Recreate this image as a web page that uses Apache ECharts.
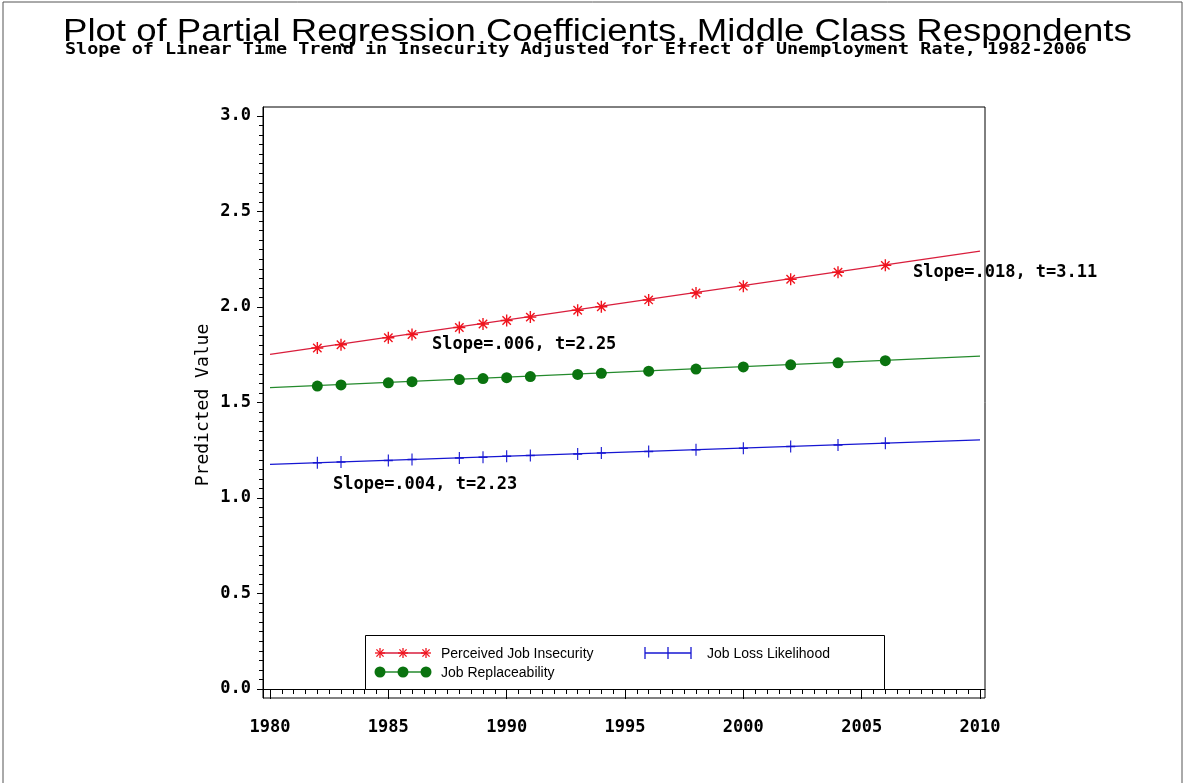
<!DOCTYPE html>
<html>
<head>
<meta charset="utf-8">
<script src="https://cdn.jsdelivr.net/npm/echarts@6/dist/echarts.min.js"></script>
<style>
  html, body { margin: 0; padding: 0; background: #fff; }
  #chart { width: 1186px; height: 783px; }
</style>
</head>
<body>
<div id="chart"></div>
<script>
// Survey years with predicted values for each insecurity measure
const years = [1982, 1983, 1985, 1986, 1988, 1989, 1990, 1991, 1993, 1994, 1996, 1998, 2000, 2002, 2004, 2006];
const insecurity     = [1.785, 1.802, 1.839, 1.856, 1.893, 1.911, 1.929, 1.947, 1.983, 2.001, 2.037, 2.073, 2.109, 2.145, 2.182, 2.218];
const replaceability = [1.586, 1.592, 1.603, 1.609, 1.620, 1.625, 1.630, 1.636, 1.647, 1.653, 1.664, 1.675, 1.686, 1.697, 1.708, 1.719];
const lossLikelihood = [1.184, 1.188, 1.197, 1.201, 1.210, 1.214, 1.218, 1.223, 1.231, 1.235, 1.244, 1.253, 1.261, 1.270, 1.278, 1.287];

// Fitted linear trend, drawn across the full axis span
const trendYears = [1980, 2010];
const insecurityTrend     = [1.752, 2.293];
const replaceabilityTrend = [1.578, 1.743];
const lossLikelihoodTrend = [1.176, 1.304];

const seriesNames = ['Perceived Job Insecurity', 'Job Replaceability', 'Job Loss Likelihood'];
const slopeNotes = ['Slope=.018, t=3.11', 'Slope=.006, t=2.25', 'Slope=.004, t=2.23'];
// anchor of each note (left edge, vertical middle) in data units
const slopeNoteX = [2007.17, 1986.85, 1982.66];
const slopeNoteY = [2.178, 1.801, 1.068];

const xTickLabels = [1980, 1985, 1990, 1995, 2000, 2005, 2010];
const yTickLabels = [0.0, 0.5, 1.0, 1.5, 2.0, 2.5, 3.0];

const RED = '#f0141e', RED_LINE = '#d91e3c';
const GREEN = '#0a730f', GREEN_LINE = '#248a2c';
const BLUE = '#1616d2';

const STAR = 'path://M5,0L5,10M0,5L10,5M1.5,1.5L8.5,8.5M8.5,1.5L1.5,8.5';
const PLUS = 'path://M5,0L5,10M0,5L10,5';

// minor tick positions: half-year steps and 0.05 steps
const xMinor = [];
for (let i = 0; i <= 60; i++) xMinor.push(1980 + i * 0.5);
const yMinor = [];
for (let i = 0; i <= 60; i++) yMinor.push(+(i * 0.05).toFixed(2));

const X_MIN = 1979.704, X_MAX = 2010.211;
const Y_MIN = -0.047, Y_MAX = 3.047;

const MONO = '"DejaVu Sans Mono", "Liberation Mono", monospace';
const SANS = '"Liberation Sans", Arial, sans-serif';

const pairs = (xs, ys) => xs.map((x, i) => [x, ys[i]]);

const chart = echarts.init(document.getElementById('chart'), null, { renderer: 'canvas' });

const axisCommon = {
  type: 'value',
  splitLine: { show: false },
  minorTick: { show: false },
};

const option = {
  backgroundColor: '#fff',
  animation: false,
  grid: {
    left: 263, top: 107, right: 201, bottom: 85,
    show: true, borderColor: '#000', borderWidth: 1,
    backgroundColor: 'transparent', z: 3
  },
  xAxis: [
    Object.assign({}, axisCommon, {
      min: X_MIN, max: X_MAX,
      axisLine: { show: true, lineStyle: { color: '#000', width: 1 } },
      axisTick: { show: true, length: 10, customValues: xTickLabels, lineStyle: { color: '#000' } },
      axisLabel: {
        customValues: xTickLabels, margin: 21,
        formatter: v => String(Math.round(v)),
        fontFamily: MONO, fontWeight: 'bold', fontSize: 17, color: '#000'
      }
    }),
    Object.assign({}, axisCommon, {
      min: X_MIN, max: X_MAX, position: 'bottom',
      axisLine: { show: false },
      axisTick: { show: true, length: 5, customValues: xMinor, lineStyle: { color: '#000' } },
      axisLabel: { show: false }
    })
  ],
  yAxis: [
    Object.assign({}, axisCommon, {
      min: Y_MIN, max: Y_MAX,
      axisLine: { show: true, lineStyle: { color: '#000', width: 1 } },
      axisTick: { show: true, length: 6, customValues: yTickLabels, lineStyle: { color: '#000' } },
      axisLabel: {
        customValues: yTickLabels, margin: 12,
        formatter: v => v.toFixed(1),
        padding: [7, 0, 0, 0],
        fontFamily: MONO, fontWeight: 'bold', fontSize: 17, color: '#000'
      }
    }),
    Object.assign({}, axisCommon, {
      min: Y_MIN, max: Y_MAX, position: 'left',
      axisLine: { show: false },
      axisTick: { show: true, length: 4, customValues: yMinor, lineStyle: { color: '#000' } },
      axisLabel: { show: false }
    })
  ],
  series: [
    {
      name: seriesNames[0] + ' trend', type: 'line', data: pairs(trendYears, insecurityTrend),
      showSymbol: false, lineStyle: { color: RED_LINE, width: 1.3 }, z: 2
    },
    {
      name: seriesNames[1] + ' trend', type: 'line', data: pairs(trendYears, replaceabilityTrend),
      showSymbol: false, lineStyle: { color: GREEN_LINE, width: 1.3 }, z: 2
    },
    {
      name: seriesNames[2] + ' trend', type: 'line', data: pairs(trendYears, lossLikelihoodTrend),
      showSymbol: false, lineStyle: { color: BLUE, width: 1.3 }, z: 2
    },
    {
      name: seriesNames[0], type: 'scatter', data: pairs(years, insecurity),
      symbol: STAR, symbolSize: 12,
      itemStyle: { color: 'transparent', borderColor: RED, borderWidth: 1.4, opacity: 1 }, z: 4
    },
    {
      name: seriesNames[1], type: 'scatter', data: pairs(years, replaceability),
      symbol: 'circle', symbolSize: 11,
      itemStyle: { color: GREEN, borderWidth: 0, opacity: 1 }, z: 4
    },
    {
      name: seriesNames[2], type: 'scatter', data: pairs(years, lossLikelihood),
      symbol: PLUS, symbolSize: [9, 12],
      itemStyle: { color: 'transparent', borderColor: BLUE, borderWidth: 1.3, opacity: 1 }, z: 4
    }
  ]
};

chart.setOption(option);

// legend sample: a short line carrying three markers
function legendSample(x0, y, kind, color, lineColor) {
  const kids = [{
    type: 'line', z: 7, shape: { x1: x0, y1: y, x2: x0 + 46, y2: y },
    style: { stroke: lineColor, lineWidth: 1.3 }
  }];
  [0, 23, 46].forEach(dx => {
    const cx = x0 + dx;
    if (kind === 'circle') {
      kids.push({ type: 'circle', z: 7, shape: { cx: cx, cy: y, r: 5.5 }, style: { fill: color } });
    } else if (kind === 'star') {
      const s = 5, d = 3.6;
      [[0, -s, 0, s], [-s, 0, s, 0], [-d, -d, d, d], [d, -d, -d, d]].forEach(p => {
        kids.push({ type: 'line', z: 7, shape: { x1: cx + p[0], y1: y + p[1], x2: cx + p[2], y2: y + p[3] },
          style: { stroke: color, lineWidth: 1.3 } });
      });
    } else {
      kids.push({ type: 'line', z: 7, shape: { x1: cx, y1: y - 6, x2: cx, y2: y + 6 },
        style: { stroke: color, lineWidth: 1.3 } });
    }
  });
  return { type: 'group', children: kids };
}

const legendText = (x, y, t) => ({
  type: 'text', x: x, y: y, z: 7,
  style: { text: t, font: '14px ' + SANS, fill: '#000', align: 'left', verticalAlign: 'middle' }
});

const notes = slopeNotes.map((t, i) => {
  const p = chart.convertToPixel({ xAxisIndex: 0, yAxisIndex: 0 }, [slopeNoteX[i], slopeNoteY[i]]);
  return {
    type: 'text', x: p[0], y: p[1], z: 1,
    style: { text: t, font: 'bold 17px ' + MONO, fill: '#000', align: 'left', verticalAlign: 'middle' }
  };
});

chart.setOption({
  graphic: [
    // page frame
    { type: 'rect', shape: { x: 3, y: 2, width: 1179, height: 800 },
      style: { fill: 'none', stroke: '#555', lineWidth: 1 }, z: 0 },
    // title
    { type: 'text', x: 63, y: 32, scaleX: 1.18, z: 5,
      style: { text: 'Plot of Partial Regression Coefficients, Middle Class Respondents',
        font: '31px ' + SANS, fill: '#000', align: 'left', verticalAlign: 'middle' } },
    // subtitle
    { type: 'text', x: 65, y: 50.5, scaleX: 1.23, z: 5,
      style: { text: 'Slope of Linear Time Trend in Insecurity Adjusted for Effect of Unemployment Rate, 1982-2006',
        font: 'bold 15px ' + MONO, fill: '#000', align: 'left', verticalAlign: 'middle' } },
    // vertical axis title
    { type: 'text', x: 203, y: 405, rotation: Math.PI / 2, z: 5,
      style: { text: 'Predicted Value', font: '18px ' + MONO, fill: '#000', align: 'center', verticalAlign: 'middle' } },
    // legend box
    { type: 'rect', shape: { x: 365.5, y: 635.5, width: 519, height: 54 },
      style: { fill: '#fff', stroke: '#000', lineWidth: 1 }, z: 5 },
    legendSample(380, 653, 'star', RED, RED_LINE),
    legendSample(380, 672, 'circle', GREEN, GREEN_LINE),
    legendSample(645, 653, 'plus', BLUE, BLUE),
    legendText(441, 654, seriesNames[0]),
    legendText(441, 673, seriesNames[1]),
    legendText(707, 654, seriesNames[2])
  ].concat(notes)
});
</script>
</body>
</html>
